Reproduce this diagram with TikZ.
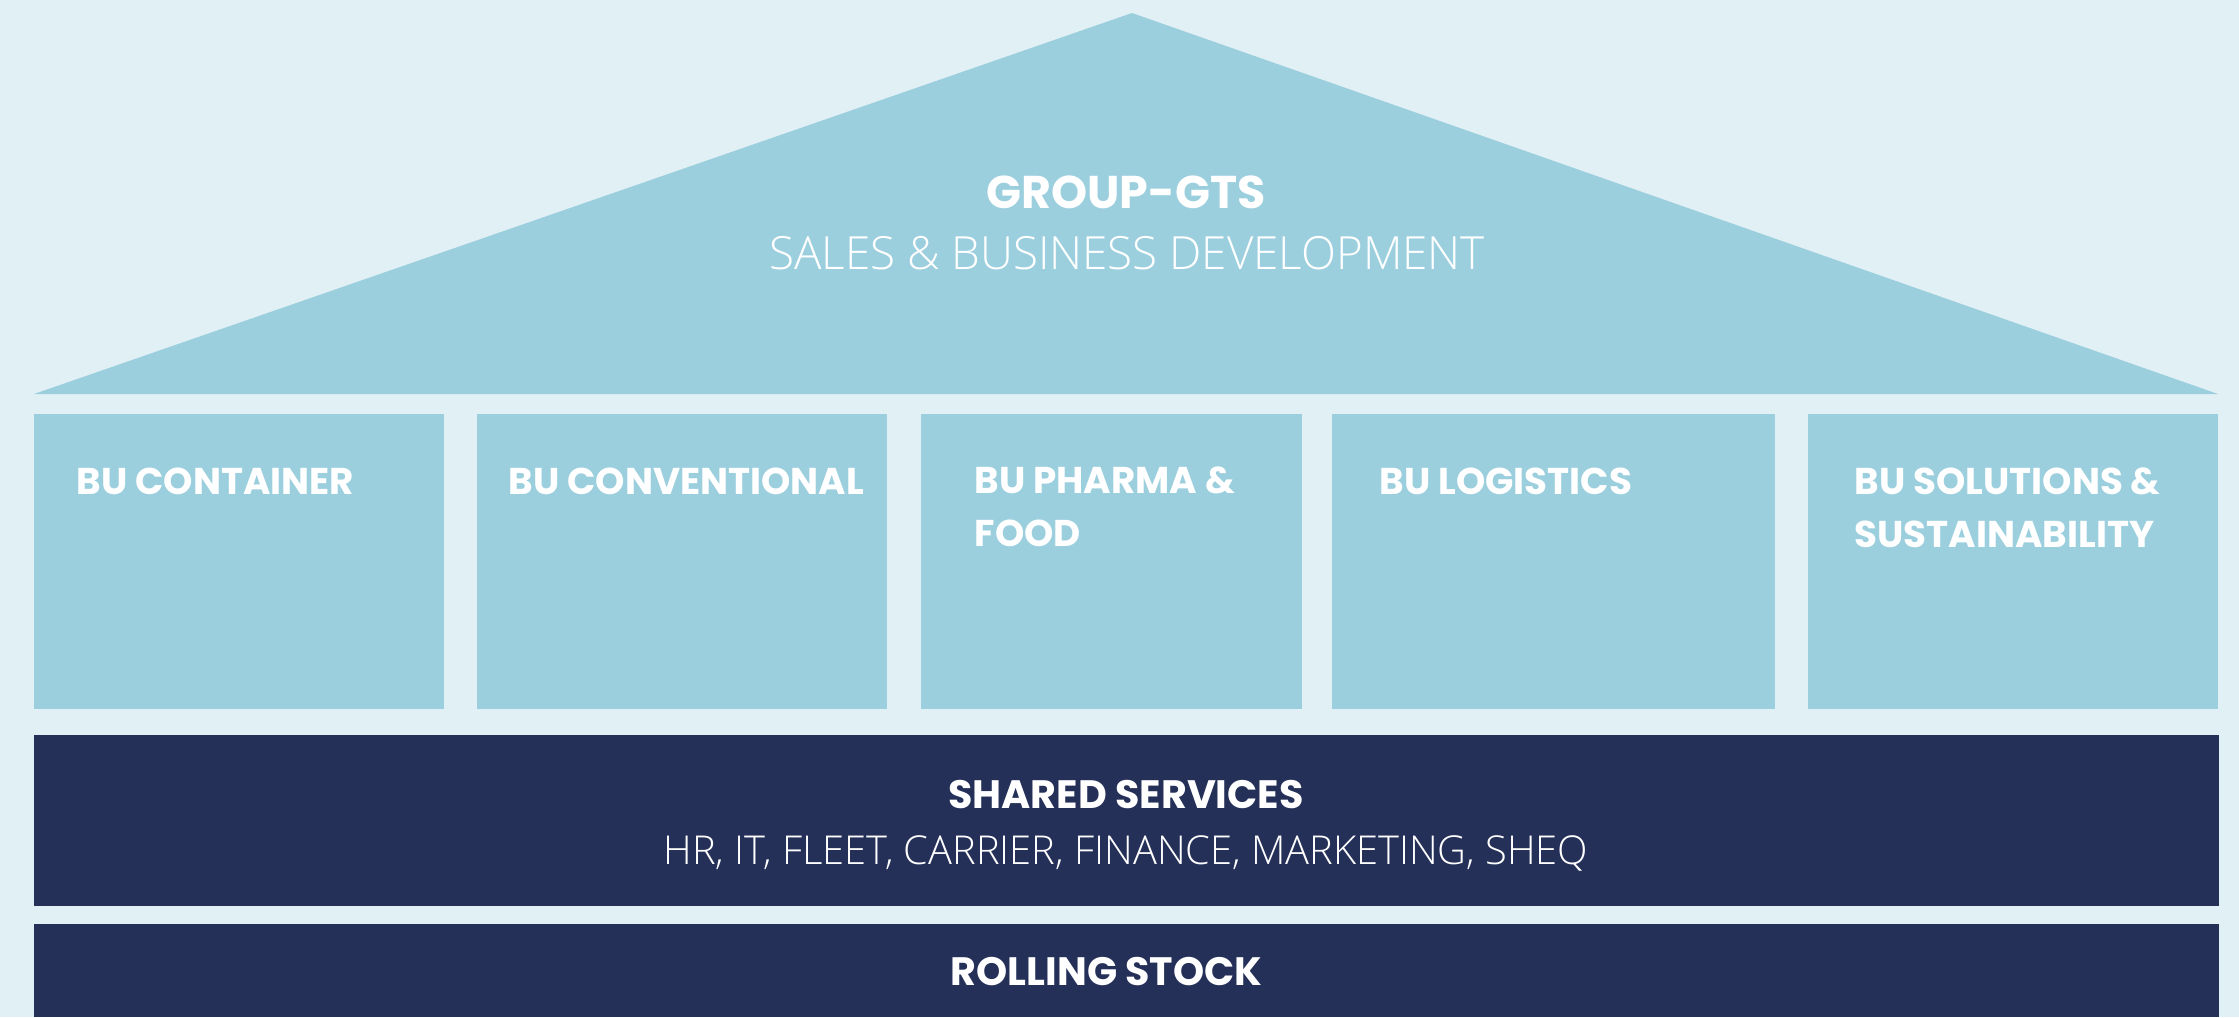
\documentclass[tikz,border=0pt]{standalone}
\usepackage{fontspec}
\newfontfamily\pop{Poppins}
\IfFontExistsTF{Open Sans Light}{\newfontfamily\osl{Open Sans Light}}{\newfontfamily\osl{Open Sans}}
\definecolor{bgc}{HTML}{E1F0F5}
\definecolor{lblue}{HTML}{9CCFDE}
\definecolor{navy}{HTML}{253059}
\begin{document}
\begin{tikzpicture}[x=0.01cm,y=-0.01cm,
  blk/.style={fill=lblue, draw=none, inner sep=0pt, outer sep=0pt, anchor=north west, minimum height=2.95cm},
  bar/.style={fill=navy, draw=none, inner sep=0pt, outer sep=0pt, anchor=north west, minimum width=21.84cm},
  bulbl/.style={anchor=base west, text=white, inner sep=0pt, align=left, font=\pop\bfseries\fontsize{10.6pt}{14.8pt}\selectfont},
  headlbl/.style={anchor=base, text=white, inner sep=0pt, font=\pop\bfseries\fontsize{11.27pt}{14pt}\selectfont},
  sublbl/.style={anchor=base, text=white, inner sep=0pt, font=\osl\fontsize{11.32pt}{14pt}\selectfont}]
  \fill[bgc] (0,0) rectangle (2239,1017);
  \useasboundingbox (0,0) rectangle (2239,1017);
  % roof
  \coordinate (roofL) at (34,394);
  \coordinate (roofT) at (1132,13);
  \coordinate (roofR) at (2218,394);
  \fill[lblue] (roofL) -- (roofT) -- (roofR) -- cycle;
  \node[headlbl, font=\pop\bfseries\fontsize{13.05pt}{15pt}\selectfont] (group) at (1126,208) {GROUP-GTS};
  \node[sublbl, font=\osl\fontsize{13.0pt}{16pt}\selectfont] (sales) at (1127,269) {SALES \& BUSINESS DEVELOPMENT};
  % business units
  \node[blk, minimum width=4.10cm] (bu1) at (34,414) {};
  \node[blk, minimum width=4.10cm] (bu2) at (477,414) {};
  \node[blk, minimum width=3.81cm] (bu3) at (921,414) {};
  \node[blk, minimum width=4.43cm] (bu4) at (1332,414) {};
  \node[blk, minimum width=4.10cm] (bu5) at (1808,414) {};
  \node[bulbl] (t1) at (76,494) {BU CONTAINER};
  \node[bulbl] (t2) at (508,494) {BU CONVENTIONAL};
  \node[bulbl] (t3) at (974,546) {BU PHARMA \&\\FOOD};
  \node[bulbl] (t4) at (1379,494) {BU LOGISTICS};
  \node[bulbl] (t5) at (1854,547) {BU SOLUTIONS \&\\SUSTAINABILITY};
  % shared services
  \node[bar, minimum height=1.71cm] (shared) at (34,735) {};
  \node[headlbl] (sharedt) at (1126,808) {SHARED SERVICES};
  \node[sublbl] (shareds) at (1126,864) {HR, IT, FLEET, CARRIER, FINANCE, MARKETING, SHEQ};
  % rolling stock
  \node[bar, minimum height=0.93cm] (rolling) at (34,924) {};
  \node[headlbl, anchor=base west] (rollingt) at (950,985) {ROLLING STOCK};
\end{tikzpicture}
\end{document}
